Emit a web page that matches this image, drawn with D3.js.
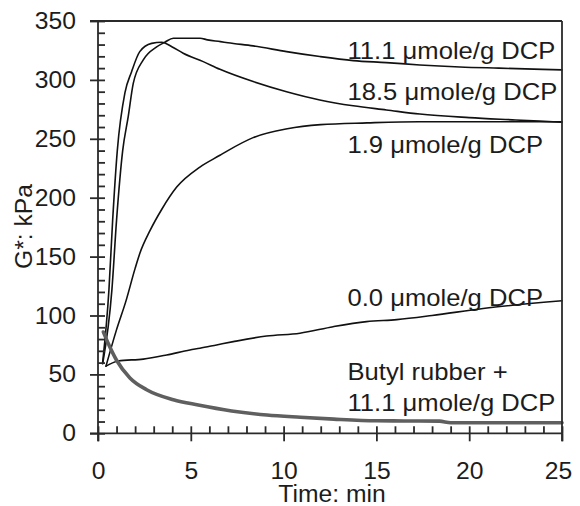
<!DOCTYPE html>
<html>
<head>
<meta charset="utf-8">
<script src="https://cdn.jsdelivr.net/npm/d3@7"></script>
<style>
  body { margin: 0; background: #fff; }
  text { font-family: "Liberation Sans", Arial, Helvetica, sans-serif; fill: #1c1c1c; }
</style>
</head>
<body>
<svg id="chart" width="580" height="506"></svg>
<script>
// Tick values
const xTicks = [0, 5, 10, 15, 20, 25];
const yTicks = [0, 50, 100, 150, 200, 250, 300, 350];
const xMinor = d3.range(0, 26, 1);
const yMinor = d3.range(0, 351, 10);

// G* (kPa) against cure time (min)
const time185 = [0.25, 0.59, 0.79, 1.04, 1.45, 1.81, 2.25, 2.89, 3.43, 4.0, 4.59, 5.67, 6.57, 8.36, 10.16, 11.95, 13.75, 15.54, 17.34, 20, 22.5, 25];
const g185    = [60, 122, 181, 240, 289, 307, 324, 331, 332, 328, 322.6, 315.5, 309, 298.6, 290, 283, 278, 274.5, 271, 268, 266, 264];

const time111 = [0.25, 0.75, 1.0, 1.33, 1.63, 1.9, 2.44, 3.16, 3.6, 4.06, 5.5, 5.9, 6.6, 7.0, 8.36, 10.16, 11.95, 13.75, 15.54, 17.34, 19.5, 21.6, 25];
const g111    = [59, 122, 181, 240, 269, 297, 317, 328, 332, 335.4, 335.4, 334, 332.5, 331.5, 328.9, 324, 319.8, 316.4, 314.7, 312.7, 311, 310, 308.5];

const time19 = [0.43, 1.0, 1.5, 2.0, 2.26, 2.8, 3.43, 4.24, 5.49, 6.57, 7.0, 8.36, 10.2, 12.0, 14.5, 17.3, 25];
const g19    = [57, 88, 112, 140, 153, 172, 190, 209, 226, 236, 240, 251, 258.5, 262, 263.5, 264.5, 264.5];

const time00 = [0.43, 1.09, 2.44, 3.7, 4.95, 5.49, 6.39, 7.29, 9.08, 10.88, 12.67, 14.47, 16.1, 18.0, 20.75, 25];
const g00    = [57, 61.4, 63, 66.5, 70.7, 72.2, 75, 77.8, 82.6, 85, 90.5, 94.8, 96.5, 100, 106, 112.5];

const timeButyl = [0.29, 0.56, 1.0, 1.72, 2.62, 4.06, 5.4, 7.2, 9.1, 10.9, 12.7, 15.0, 16.5, 18.4, 19.0, 25];
const gButyl    = [86, 76, 62, 47, 37, 28.5, 24, 19, 15.5, 13.6, 12, 10.6, 10.5, 10.3, 9, 9];

const seriesNames = ["18.5 μmole/g DCP", "11.1 μmole/g DCP", "1.9 μmole/g DCP", "0.0 μmole/g DCP", "Butyl rubber + 11.1 μmole/g DCP"];
const seriesTimes = [time185, time111, time19, time00, timeButyl];
const seriesG = [g185, g111, g19, g00, gButyl];

// Curve labels, each may span lines
const labelLines = [
  ["11.1 μmole/g DCP"],
  ["18.5 μmole/g DCP"],
  ["1.9 μmole/g DCP"],
  ["0.0 μmole/g DCP"],
  ["Butyl rubber +", "11.1 μmole/g DCP"]
];

const xTitle = "Time: min";
const yTitle = "G*: kPa";

// ---- layout ----
const svg = d3.select("#chart");
const plotL = 98, plotR = 562, plotT = 21, plotB = 433.3;
const fs = 23.5, stretch = 1.05, labelStretch = 1.09;
const axisColor = "#2a2a2a";

const x = d3.scaleLinear().domain([0, 25]).range([plotL, plotR]);
const y = d3.scaleLinear().domain([0, 350]).range([plotB, plotT]);

// curves
const line = d3.line().x(d => x(d[0])).y(d => y(d[1])).curve(d3.curveMonotoneX);
seriesNames.forEach((name, i) => {
  const pts = seriesTimes[i].map((t, k) => [t, seriesG[i][k]]);
  const butyl = name.startsWith("Butyl");
  svg.append("path")
    .datum(pts)
    .attr("d", line)
    .attr("fill", "none")
    .attr("stroke", butyl ? "#5f5f5f" : "#111")
    .attr("stroke-width", butyl ? 3.6 : 1.6)
    .attr("stroke-linejoin", "round")
    .attr("stroke-linecap", "round");
});

// frame: top and right edges
svg.append("line").attr("x1", plotL - 8).attr("x2", plotR).attr("y1", plotT).attr("y2", plotT)
  .attr("stroke", axisColor).attr("stroke-width", 1.8);
svg.append("line").attr("x1", plotR).attr("x2", plotR).attr("y1", plotT).attr("y2", plotB + 8)
  .attr("stroke", axisColor).attr("stroke-width", 1.8);

// inner ticks (minor and major)
const xInner = svg.append("g").attr("transform", `translate(0,${plotB})`)
  .call(d3.axisBottom(x).tickValues(xMinor).tickSize(-7).tickFormat(""));
const yInner = svg.append("g").attr("transform", `translate(${plotL},0)`)
  .call(d3.axisLeft(y).tickValues(yMinor).tickSize(-7).tickFormat(""));

// outer major ticks with labels
const xAxis = svg.append("g").attr("transform", `translate(0,${plotB})`)
  .call(d3.axisBottom(x).tickValues(xTicks).tickSize(8).tickPadding(21.5).tickFormat(d3.format("d")));
const yAxis = svg.append("g").attr("transform", `translate(${plotL},0)`)
  .call(d3.axisLeft(y).tickValues(yTicks).tickSize(8).tickPadding(12).tickFormat(d3.format("d")));

[xInner, yInner, xAxis, yAxis].forEach(g => {
  g.select(".domain").remove();
  g.selectAll("line").attr("stroke", axisColor).attr("stroke-width", 1.8);
});

xAxis.selectAll("text")
  .attr("font-size", fs).attr("fill", "#1c1c1c")
  .attr("x", d => d === 25 ? -4 / stretch : 0)
  .attr("transform", `scale(${stretch},1)`);
yAxis.selectAll("text")
  .attr("font-size", fs).attr("fill", "#1c1c1c")
  .attr("x", -22 / stretch)
  .attr("transform", `scale(${stretch},1)`);

// axis lines
svg.append("line").attr("x1", plotL - 8).attr("x2", plotR).attr("y1", plotB).attr("y2", plotB)
  .attr("stroke", axisColor).attr("stroke-width", 1.8);
svg.append("line").attr("x1", plotL).attr("x2", plotL).attr("y1", plotT).attr("y2", plotB + 8)
  .attr("stroke", axisColor).attr("stroke-width", 1.8);

// axis titles
svg.append("text")
  .attr("transform", `translate(332,501.5) scale(${stretch},1)`)
  .attr("text-anchor", "middle").attr("font-size", fs)
  .text(xTitle);
svg.append("text")
  .attr("transform", `translate(32,226.5) rotate(-90) scale(${stretch},1)`)
  .attr("text-anchor", "middle").attr("font-size", fs)
  .text(yTitle);

// curve labels
const labelX = 347.5;
const labelBase = [59, 100, 152.7, 305.5, 380];
labelLines.forEach((lines, i) => {
  lines.forEach((txt, j) => {
    svg.append("text")
      .attr("transform", `translate(${labelX},${labelBase[i] + j * 30.5}) scale(${labelStretch},1)`)
      .attr("font-size", fs)
      .text(txt);
  });
});
</script>
</body>
</html>
